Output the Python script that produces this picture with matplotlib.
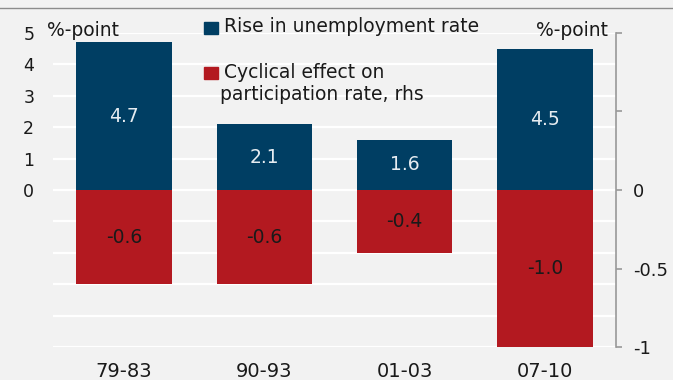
import matplotlib
matplotlib.use("Agg")
import matplotlib.pyplot as plt
from matplotlib.lines import Line2D
from matplotlib.patches import Rectangle
import numpy as np

# recession episodes and the two series
periods = ["79-83", "90-93", "01-03", "07-10"]
unemp_rise = [4.7, 2.1, 1.6, 4.5]          # lhs, %-point
partic_effect = [-0.6, -0.6, -0.4, -1.0]   # rhs, %-point
left_ticks = [-5, -4, -3, -2, -1, 0, 1, 2, 3, 4, 5]
left_labels = ["", "", "", "", "", "0", "1", "2", "3", "4", "5"]
right_ticks = [-1, -0.5, 0, 0.5, 1]
right_labels = ["-1", "-0.5", "0", "", ""]

BG = "#f2f2f2"
BLUE = "#003e63"
RED = "#b31920"
FG = "#1a1a1a"

plt.rcParams["font.family"] = "DejaVu Sans"

W, H = 673, 380
fig = plt.figure(figsize=(W / 100, H / 100), dpi=100)
fig.patch.set_facecolor(BG)

# axes box in pixels: x 53..616, y 33..347 (from top)
ax = fig.add_axes([53 / W, 1 - 347 / H, (616 - 53) / W, (347 - 33) / H])
ax.set_facecolor(BG)
x = np.arange(len(periods))
bw = 0.68

ax.bar(x, unemp_rise, width=bw, color=BLUE, zorder=3)
ax.set_ylim(-5, 5)
ax.set_xlim(-0.505, 3.505)
ax.set_yticks(left_ticks)
ax.set_yticklabels(left_labels)
ax.grid(axis="y", color="white", linewidth=1.6, zorder=0)
ax.set_axisbelow(True)
for s in ax.spines.values():
    s.set_visible(False)
ax.tick_params(axis="y", length=0, pad=13.5, labelsize=12.5, labelcolor=FG)
ax.set_xticks(x)
ax.set_xticklabels(periods)
ax.tick_params(axis="x", length=0, pad=10.5, labelsize=14, labelcolor=FG)

for xi, v in zip(x, unemp_rise):
    ax.text(xi, v / 2, f"{v:.1f}", ha="center", va="center",
            color="#e6ecf1", fontsize=13.5, zorder=4)

ax2 = ax.twinx()
ax2.bar(x, partic_effect, width=bw, color=RED, zorder=3)
ax2.set_ylim(-1, 1)
ax2.set_yticks(right_ticks)
ax2.set_yticklabels(right_labels)
for name, s in ax2.spines.items():
    s.set_visible(name == "right")
ax2.spines["right"].set_color("#999999")
ax2.spines["right"].set_linewidth(1.2)
ax2.tick_params(axis="y", length=4, width=1.2, color="#999999",
                pad=8, labelsize=13, labelcolor=FG)

for xi, v in zip(x, partic_effect):
    ax2.text(xi, v / 2, f"{v:.1f}", ha="center", va="center",
             color=FG, fontsize=13.5, zorder=4)

# unit labels above both axes
fig.text(47 / W, 1 - 31 / H, "%-point", ha="left", va="center", fontsize=13.5, color=FG)
fig.text(608 / W, 1 - 31 / H, "%-point", ha="right", va="center", fontsize=13.5, color=FG)

# legend drawn by hand
fig.add_artist(Rectangle((204 / W, 1 - 34 / H), 14 / W, 12 / H,
                         transform=fig.transFigure, color=BLUE))
fig.text(224 / W, 1 - 27 / H, "Rise in unemployment rate", ha="left", va="center",
         fontsize=13.5, color=FG)
fig.add_artist(Rectangle((204 / W, 1 - 79 / H), 14 / W, 12 / H,
                         transform=fig.transFigure, color=RED))
fig.text(224 / W, 1 - 72 / H, "Cyclical effect on", ha="left", va="center",
         fontsize=13.5, color=FG)
fig.text(220 / W, 1 - 95 / H, "participation rate, rhs", ha="left", va="center",
         fontsize=13.5, color=FG)

# thin rule across the top
fig.add_artist(Line2D([0, 1], [1 - 8 / H, 1 - 8 / H], transform=fig.transFigure,
                      color="#8c8c8c", linewidth=1))

fig.savefig("out.png", dpi=100, facecolor=BG)
